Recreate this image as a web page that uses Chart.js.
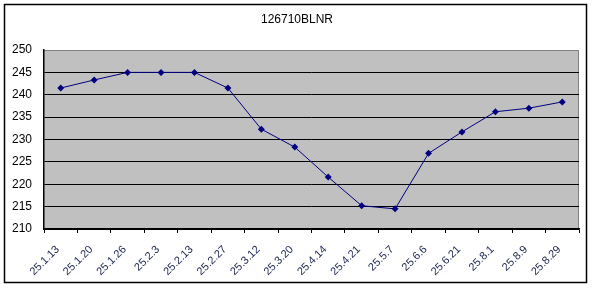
<!DOCTYPE html>
<html>
<head>
<meta charset="utf-8">
<script src="https://cdn.jsdelivr.net/npm/chart.js@4/dist/chart.umd.min.js"></script>
<style>
  body { margin: 0; background: #fff; }
  canvas { display: block; }
</style>
</head>
<body>
<canvas id="chart" width="592" height="288"></canvas>
<script>
const titleText = "126710BLNR";
const dates = ["25.1.13", "25.1.20", "25.1.26", "25.2.3", "25.2.13", "25.2.27", "25.3.12", "25.3.20",
  "25.4.14", "25.4.21", "25.5.7", "25.6.6", "25.6.21", "25.8.1", "25.8.9", "25.8.29"];
const prices = [241.5, 243.3, 245, 245, 245, 241.5, 232.3, 228.3, 221.6, 215.2, 214.5, 226.9, 231.7, 236.2, 237.0, 238.4];
const yMin = 210;
const yMax = 250;
const yStep = 5;

// frame, plot background and title
const decor = {
  id: "decor",
  beforeDraw(chart) {
    const ctx = chart.ctx;
    const a = chart.chartArea;
    ctx.save();
    ctx.fillStyle = "#fff";
    ctx.fillRect(0, 0, chart.width, chart.height);
    ctx.fillStyle = "#c0c0c0";
    ctx.fillRect(a.left, a.top, a.right - a.left, a.bottom - a.top);
    ctx.strokeStyle = "#808080";
    ctx.lineWidth = 1;
    ctx.beginPath();
    ctx.moveTo(a.left, a.top + 0.5);
    ctx.lineTo(a.right - 0.5, a.top + 0.5);
    ctx.lineTo(a.right - 0.5, a.bottom);
    ctx.stroke();
    ctx.restore();
  },
  afterDraw(chart) {
    const ctx = chart.ctx;
    ctx.save();
    ctx.strokeStyle = "#000";
    ctx.lineWidth = 1.5;
    ctx.strokeRect(4.5, 4.5, 582, 278);
    ctx.fillStyle = "#000";
    ctx.font = "12px 'Liberation Sans', Arial, sans-serif";
    ctx.textAlign = "center";
    ctx.textBaseline = "middle";
    ctx.fillText(titleText, 297, 20);
    ctx.restore();
  }
};

new Chart(document.getElementById("chart"), {
  type: "line",
  data: {
    labels: dates,
    datasets: [{
      data: prices,
      borderColor: "#000080",
      backgroundColor: "#000080",
      borderWidth: 1,
      pointStyle: "rectRot",
      pointRadius: 3.5,
      pointBorderWidth: 0,
      tension: 0
    }]
  },
  options: {
    responsive: false,
    animation: false,
    layout: { padding: { left: 0, right: 13, top: 50, bottom: 0 } },
    plugins: { legend: { display: false }, tooltip: { enabled: false } },
    scales: {
      x: {
        offset: true,
        afterFit(scale) { scale.height = 59; },
        border: { color: "#000", width: 1.5 },
        grid: { offset: true, drawOnChartArea: false, drawTicks: true, tickLength: 4, color: "#000" },
        ticks: {
          autoSkip: false,
          maxRotation: 45,
          minRotation: 45,
          padding: 10,
          labelOffset: -3,
          color: "#1a2450",
          font: { family: "'Liberation Sans', Arial, sans-serif", size: 11 }
        }
      },
      y: {
        min: yMin,
        max: yMax,
        afterFit(scale) { scale.width = 44; },
        border: { color: "#000", width: 1.5 },
        grid: {
          drawTicks: false,
          color: ctx => (ctx.tick && ctx.tick.value === yMax ? "rgba(0,0,0,0)" : "#000"),
          lineWidth: 1
        },
        ticks: {
          stepSize: yStep,
          padding: 12,
          color: "#000",
          font: { family: "'Liberation Sans', Arial, sans-serif", size: 12 }
        }
      }
    }
  },
  plugins: [decor]
});
</script>
</body>
</html>
